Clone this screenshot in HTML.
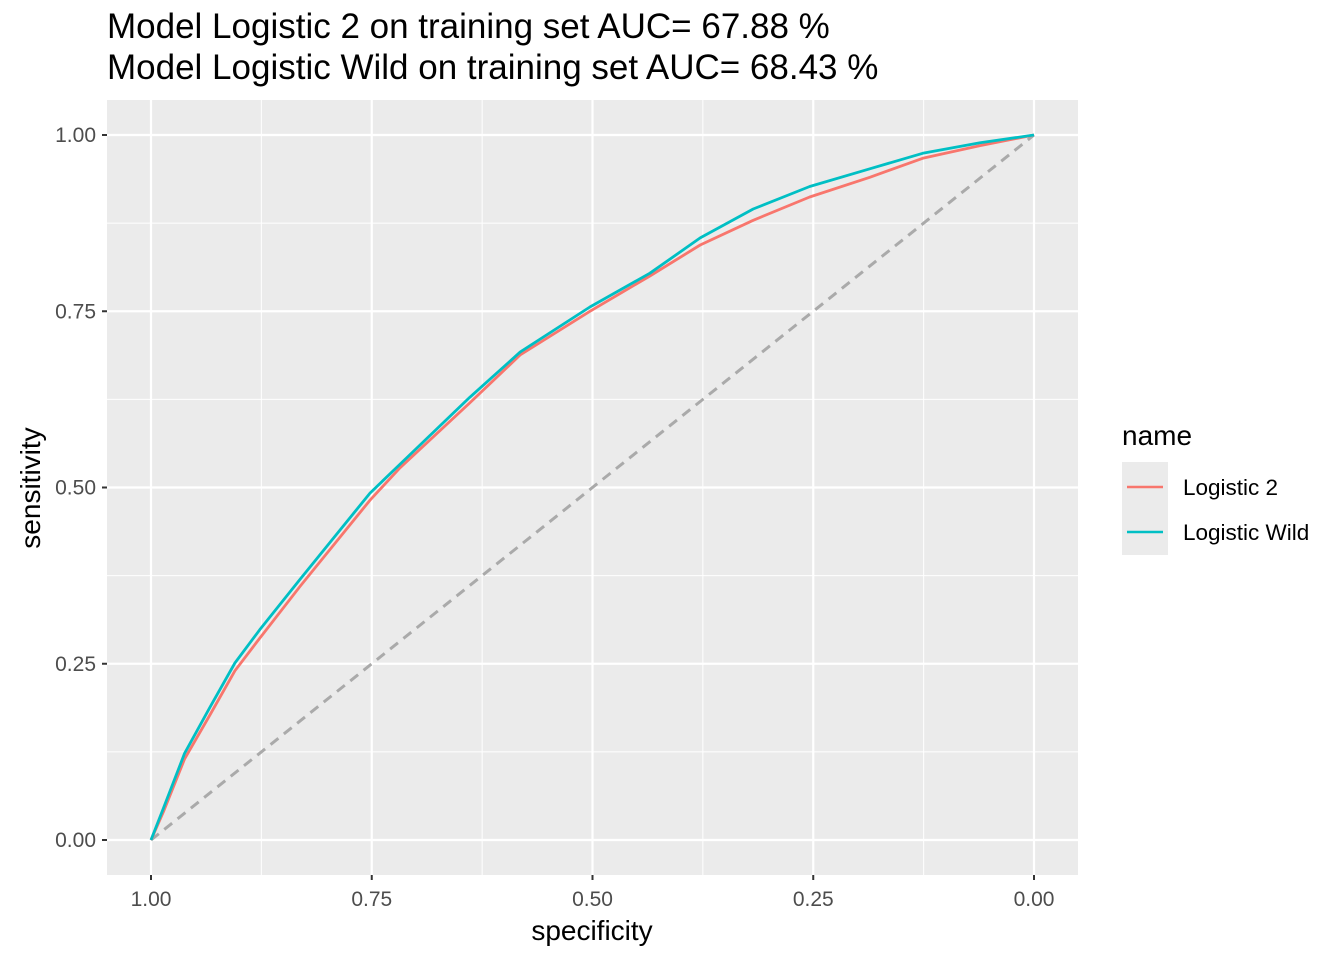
<!DOCTYPE html>
<html><head><meta charset="utf-8"><style>
body{margin:0;background:#fff;font-family:"Liberation Sans",Arial,sans-serif;}
</style></head><body>
<svg id="chart" width="1344" height="960" xmlns="http://www.w3.org/2000/svg" font-family="Liberation Sans, Arial, sans-serif">
<text x="107" y="38" font-size="35" fill="#000">Model Logistic 2 on training set AUC= 67.88 %</text>
<text x="107" y="79" font-size="35" fill="#000">Model Logistic Wild on training set AUC= 68.43 %</text>
<rect x="107" y="100" width="971" height="775" fill="#ebebeb"/>
<g id="grid"></g>
<g id="marks"></g>
<g id="axes"></g>
<text x="592" y="940" font-size="28" text-anchor="middle">specificity</text>
<text transform="translate(40,488) rotate(-90)" font-size="28" text-anchor="middle">sensitivity</text>
<text x="1122" y="445" font-size="28">name</text>
<g>
<rect x="1122" y="462" width="46" height="46" fill="#ebebeb"/>
<line x1="1127" y1="487" x2="1163" y2="487" stroke="#F8766D" stroke-width="2.5"/>
<text x="1183" y="495" font-size="22.5">Logistic 2</text></g>
<g>
<rect x="1122" y="508" width="46" height="47" fill="#ebebeb"/>
<line x1="1127" y1="532" x2="1163" y2="532" stroke="#00BFC4" stroke-width="2.5"/>
<text x="1183" y="540" font-size="22.5">Logistic Wild</text></g>
</svg>
<script>
const specL2 = [1,0.986,0.962,0.933,0.905,0.877,0.831,0.752,0.718,0.639,0.582,0.503,0.435,0.378,0.318,0.254,0.186,0.126,0.061,0];
const sensL2 = [0,0.040,0.115,0.178,0.240,0.286,0.360,0.482,0.528,0.620,0.688,0.750,0.800,0.844,0.879,0.912,0.940,0.967,0.985,1];
const specWild = [1,0.986,0.962,0.933,0.905,0.877,0.831,0.752,0.718,0.639,0.582,0.503,0.435,0.378,0.318,0.254,0.186,0.126,0.061,0];
const sensWild = [0,0.045,0.123,0.189,0.251,0.298,0.370,0.492,0.533,0.628,0.692,0.756,0.804,0.854,0.895,0.927,0.952,0.974,0.989,1];
const ticks = [1,0.75,0.5,0.25,0];
const tickLabels = ["1.00","0.75","0.50","0.25","0.00"];
const NS="http://www.w3.org/2000/svg";
const xs = s => 151 + (1 - s) * 883;
const ys = v => 840 - v * 705;
function mk(tag, attrs, parent){const e=document.createElementNS(NS,tag);for(const k in attrs)e.setAttribute(k,attrs[k]);parent.appendChild(e);return e;}
const grid=document.getElementById('grid'), marks=document.getElementById('marks'), axes=document.getElementById('axes');
for(let i=0;i<4;i++){const m=(ticks[i]+ticks[i+1])/2;
 const a=mk('line',{x1:xs(m),x2:xs(m),y1:100,y2:875,stroke:'#fff','stroke-width':1},grid);
 
 
 const b=mk('line',{x1:107,x2:1078,y1:ys(m),y2:ys(m),stroke:'#fff','stroke-width':1},grid);
 
 }
ticks.forEach((t,i)=>{
 const a=mk('line',{x1:xs(t),x2:xs(t),y1:100,y2:875,stroke:'#fff','stroke-width':2.2},grid);
 
 
 const b=mk('line',{x1:107,x2:1078,y1:ys(t),y2:ys(t),stroke:'#fff','stroke-width':2.2},grid);
 
 
 const tx=mk('text',{x:xs(t),y:906,'font-size':21,fill:'#4d4d4d','text-anchor':'middle'},axes);tx.textContent=tickLabels[i];
 
 
 mk('line',{x1:xs(t),x2:xs(t),y1:875,y2:880,stroke:'#333','stroke-width':2},axes);
 const yv=1-t;
 const ty=mk('text',{x:96,y:ys(yv)+7,'font-size':21,fill:'#4d4d4d','text-anchor':'end'},axes);ty.textContent=tickLabels[4-i];
 
 
 mk('line',{x1:102,x2:107,y1:ys(yv),y2:ys(yv),stroke:'#333','stroke-width':2},axes);
});
const diag=mk('line',{x1:xs(1),y1:ys(0),x2:xs(0),y2:ys(1),stroke:'#aaaaaa','stroke-width':3,'stroke-dasharray':'10,7'},marks);


function path(sp,se,color,name){
 const d=sp.map((s,i)=>(i?'L':'M')+xs(s).toFixed(1)+','+ys(se[i]).toFixed(1)).join(' ');
 const p=mk('path',{d:d,fill:'none',stroke:color,'stroke-width':2.8,'stroke-linejoin':'round'},marks);
 
 
}
path(specL2,sensL2,'#F8766D','roc-curve-logistic-2');
path(specWild,sensWild,'#00BFC4','roc-curve-logistic-wild');
</script>
</body></html>
